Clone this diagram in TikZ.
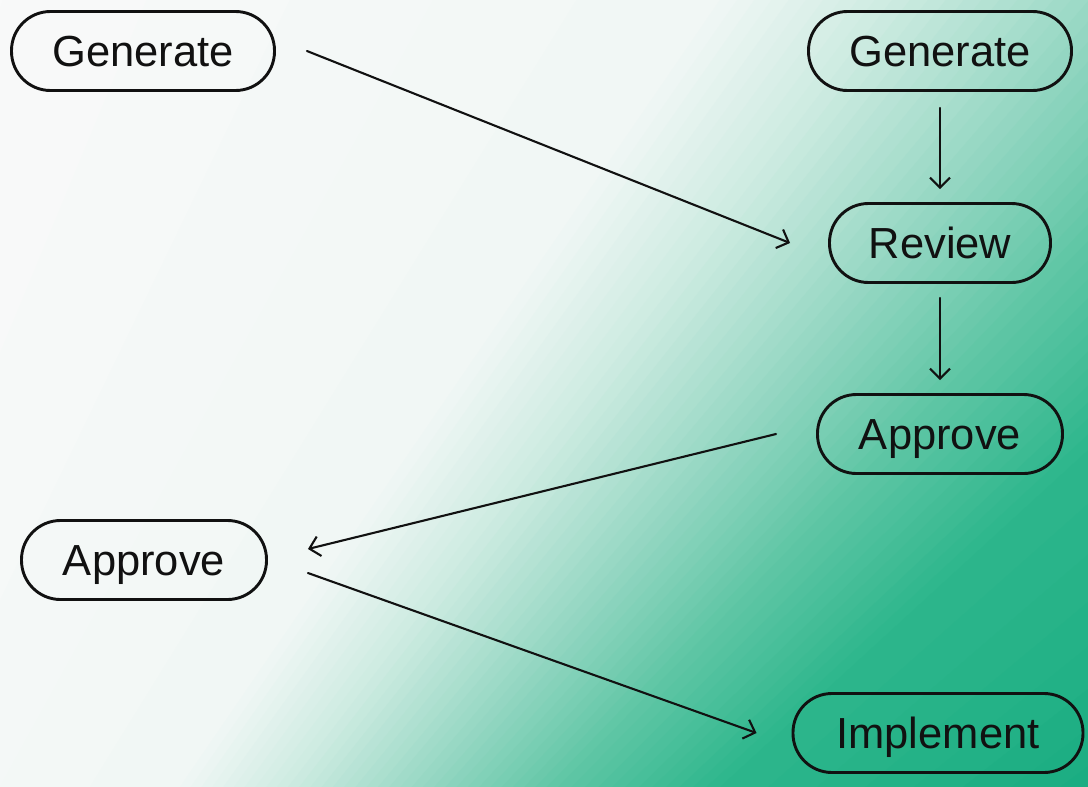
\documentclass[tikz,border=0pt]{standalone}
\usepackage{fontspec}
\setmainfont{Liberation Sans}
\usetikzlibrary{arrows.meta}
\definecolor{bgA}{RGB}{250,250,250}
\definecolor{bgB}{RGB}{240,247,245}
\definecolor{bgC}{RGB}{205,235,225}
\definecolor{bgD}{RGB}{150,215,195}
\definecolor{bgE}{RGB}{95,198,165}
\definecolor{bgF}{RGB}{45,182,140}
\definecolor{bgG}{RGB}{20,170,126}
\definecolor{ink}{RGB}{17,17,17}
% one gradient segment: t_a, t_b, colour A, colour B, number of strips
\newcommand\gradseg[5]{%
  \foreach \i in {1,...,#5}{%
    \pgfmathsetmacro\ta{#1+(\i-1)*(#2-#1)/#5}%
    \pgfmathsetmacro\tb{#1+\i*(#2-#1)/#5+0.006}%
    \pgfmathsetmacro\pc{100*(\i-0.5)/#5}%
    \pgfmathsetmacro\xat{723.4+\ta*862.0}%
    \pgfmathsetmacro\xbt{723.4+\tb*862.0}%
    \pgfmathsetmacro\xab{176.6+\ta*538.0}%
    \pgfmathsetmacro\xbb{176.6+\tb*538.0}%
    \colorlet{stripcol}{#4!\pc!#3}%
    \fill[stripcol] (\xat,-5) -- (\xbt,-5) -- (\xbb,792) -- (\xab,792) -- cycle;
  }}
\tikzset{
  pill/.style={draw=ink, line width=2.9pt, rounded corners=39pt,
    minimum height=79pt, inner xsep=6pt, inner ysep=0pt,
    text height=31pt, text depth=0pt, text=ink,
    font=\fontsize{43.5}{44}\selectfont},
  arr/.style={draw=ink, line width=2.1pt, line cap=round,
    -{Straight Barb[length=10pt,width=20pt,line width=2.1pt]}}
}
\begin{document}
\begin{tikzpicture}[x=1pt,y=-1pt]
\useasboundingbox (0,0) rectangle (1088,787);
\begin{scope}
\clip (0,0) rectangle (1088,787);
\fill[bgA] (0,0) rectangle (1088,787);
\gradseg{-1.0}{0.0}{bgA}{bgB}{6}
\gradseg{0.0}{0.2}{bgB}{bgC}{10}
\gradseg{0.2}{0.45}{bgC}{bgD}{12}
\gradseg{0.45}{0.7}{bgD}{bgE}{12}
\gradseg{0.7}{1.0}{bgE}{bgF}{12}
\gradseg{1.0}{1.9}{bgF}{bgG}{10}
\end{scope}

\node[pill, minimum width=263pt] (gl) at (143,51) {Generate};
\node[pill, minimum width=263pt] (gr) at (940,51) {Generate};
\node[pill, minimum width=221pt] (rv) at (940,243) {Review};
\node[pill, minimum width=245pt] (ar) at (940,434) {Approve};
\node[pill, minimum width=245pt] (al) at (144,560) {Approve};
\node[pill, minimum width=290pt] (im) at (938,733) {Implement};

\draw[arr] ([xshift=31pt]gl.east) -- ([xshift=-38pt]rv.west);
\draw[arr, shorten <=16pt, shorten >=13pt] (gr.south) -- (rv.north);
\draw[arr, shorten <=14pt, shorten >=13pt] (rv.south) -- (ar.north);
\draw[arr] ([xshift=-40pt]ar.west) -- ([xshift=40pt,yshift=11pt]al.east);
\draw[arr] ([xshift=40pt,yshift=-13pt]al.east) -- ([xshift=-35pt]im.west);
\end{tikzpicture}
\end{document}
